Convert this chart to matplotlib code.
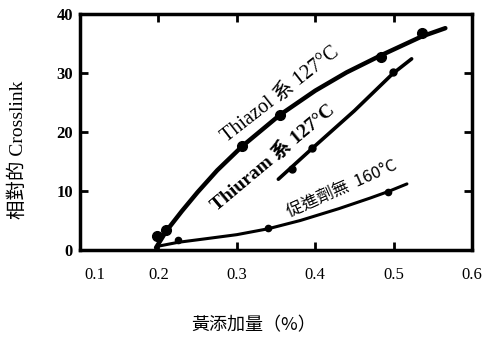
import numpy as np
import matplotlib.pyplot as plt
import matplotlib.transforms as mtransforms

# values
# Thiazol 127C - measured points and the hand drawn curve through them
thiazol_x = [0.198, 0.21, 0.307, 0.355, 0.484, 0.536]
thiazol_y = [2.4, 3.4, 17.6, 22.9, 32.7, 36.8]
thiazol_curve_x = [0.197, 0.21, 0.23, 0.25, 0.275, 0.307, 0.355, 0.40, 0.44, 0.484, 0.536, 0.566]
thiazol_curve_y = [0.4, 3.2, 6.6, 9.8, 13.5, 17.6, 22.9, 27.0, 30.1, 33.0, 36.2, 37.6]

# Thiuram 127C
thiuram_x = [0.37, 0.396, 0.499]
thiuram_y = [13.7, 17.3, 30.2]
thiuram_curve_x = [0.353, 0.396, 0.45, 0.499, 0.523]
thiuram_curve_y = [12.0, 17.2, 23.6, 29.9, 32.4]

# no accelerator 160C
none_x = [0.225, 0.34, 0.493]
none_y = [1.7, 3.7, 9.8]
none_curve_x = [0.198, 0.225, 0.26, 0.30, 0.34, 0.381, 0.43, 0.47, 0.493, 0.517]
none_curve_y = [0.6, 1.3, 1.9, 2.6, 3.6, 5.0, 7.0, 8.8, 9.9, 11.2]

xticks = [0.1, 0.2, 0.3, 0.4, 0.5, 0.6]
xticklabels = ['0.1', '0.2', '0.3', '0.4', '0.5', '0.6']
yticks = [0, 10, 20, 30, 40]

serif = ['Liberation Serif', 'Noto Sans CJK TC', 'DejaVu Sans']
cjk = ['Noto Sans CJK TC', 'DejaVu Sans']

fig = plt.figure(figsize=(4.92, 3.38), dpi=100)
ax = fig.add_axes([80/492, 88/338, 392/492, 236/338])

ax.plot(thiazol_curve_x, thiazol_curve_y, color='black', lw=3.2,
        solid_capstyle='round', solid_joinstyle='round')
ax.plot(thiazol_x, thiazol_y, 'o', color='black', ms=7)
ax.plot(thiuram_curve_x, thiuram_curve_y, color='black', lw=2.6,
        solid_capstyle='round', solid_joinstyle='round')
ax.plot(thiuram_x, thiuram_y, 'o', color='black', ms=5)
ax.plot(none_curve_x, none_curve_y, color='black', lw=2.2,
        solid_capstyle='round', solid_joinstyle='round')
ax.plot(none_x, none_y, 'o', color='black', ms=4.5)

ax.set_xlim(0.1, 0.6)
ax.set_ylim(0, 40)
ax.set_xticks(xticks)
ax.set_xticklabels(xticklabels, family=serif, fontsize=12)
ax.set_yticks(yticks)
ax.set_yticklabels([str(v) for v in yticks], family=serif, fontsize=12, fontweight='bold')
ax.tick_params(direction='in', length=6, width=2, top=True, right=True)
ax.tick_params(axis='x', pad=12)
ax.tick_params(axis='y', pad=5)
for s in ax.spines.values():
    s.set_linewidth(2.5)

# no tick marks at the axis ends
for t in ax.xaxis.get_major_ticks():
    if t.get_loc() in (0.1, 0.6):
        t.tick1line.set_visible(False)
        t.tick2line.set_visible(False)
for t in ax.yaxis.get_major_ticks():
    if t.get_loc() in (0, 40):
        t.tick1line.set_visible(False)
        t.tick2line.set_visible(False)

# 0.1 label sits a bit right of the spine
lab = ax.get_xticklabels()[0]
lab.set_transform(lab.get_transform() + mtransforms.ScaledTranslation(15/100, 0, fig.dpi_scale_trans))

ax.text(0.356, 26.3, 'Thiazol 系 127°C', rotation=38, ha='center', va='center',
        family=serif, fontsize=14.5, rotation_mode='anchor')
ax.text(0.346, 15.6, 'Thiuram 系 127°C', rotation=40, ha='center', va='center',
        family=serif, fontsize=14, fontweight='bold', rotation_mode='anchor')
ax.text(0.434, 10.5, '促進劑無  160°C', rotation=24, ha='center', va='center',
        family=cjk, fontsize=12, rotation_mode='anchor')

fig.text(18/492, 1 - 150/338, '相對的 Crosslink', rotation=90, ha='center', va='center',
         family=serif, fontsize=14)
fig.text(254/492, 1 - 325/338, '黃添加量（%）', ha='center', va='center',
         family=cjk, fontsize=13)

fig.savefig('out.png', dpi=100)
